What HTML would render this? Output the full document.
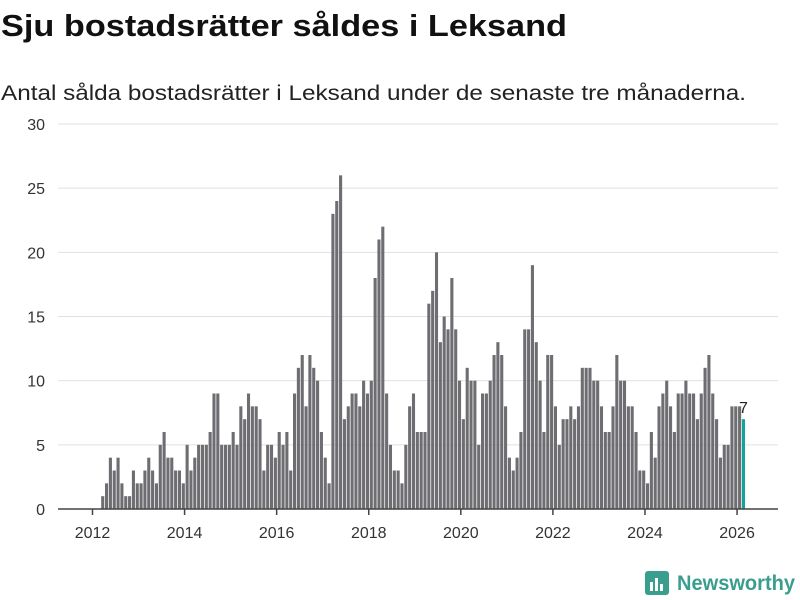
<!DOCTYPE html>
<html><head><meta charset="utf-8"><style>
body{margin:0;background:#fff;width:800px;height:600px;overflow:hidden}
svg{display:block;font-family:"Liberation Sans",sans-serif}
</style></head><body>
<svg id="chart" width="800" height="600" viewBox="0 0 800 600">
<text x="1" y="36" font-size="31" font-weight="bold" fill="#111" textLength="566" lengthAdjust="spacingAndGlyphs">Sju bostadsrätter såldes i Leksand</text>
<text x="1" y="100" font-size="21" fill="#222" textLength="745" lengthAdjust="spacingAndGlyphs">Antal sålda bostadsrätter i Leksand under de senaste tre månaderna.</text>
<g id="grid"></g>
<g id="bars"></g>
<g id="axis"></g>
<g>
<rect x="645" y="571" width="24" height="24" rx="3" fill="#3a9e8f"/>
<rect x="650" y="582" width="3" height="9" fill="#fff"/><rect x="655" y="578" width="3" height="13" fill="#fff"/><rect x="660" y="584" width="3" height="7" fill="#fff"/>
<text x="677" y="590" font-size="21" font-weight="bold" fill="#3a9e8f" textLength="118" lengthAdjust="spacingAndGlyphs">Newsworthy</text>
</g>
</svg>
<script>
const startYear = 2012, startMonth = 2;
const values = [1,2,4,3,4,2,1,1,3,2,2,3,4,3,2,5,6,4,4,3,3,2,5,3,4,5,5,5,6,9,9,5,5,5,6,5,8,7,9,8,8,7,3,5,
5,4,6,5,6,3,9,11,12,8,12,11,10,6,4,2,23,24,26,7,8,9,9,8,10,9,10,18,21,22,9,5,3,3,2,5,8,9,6,6,6,
16,17,20,13,15,14,18,14,10,7,11,10,10,5,9,9,10,12,13,12,8,4,3,4,6,14,14,19,13,10,6,12,12,8,5,7,7,8,7,8,
11,11,11,10,10,8,6,6,8,12,10,10,8,8,6,3,3,2,6,4,8,9,10,8,6,9,9,10,9,9,7,9,11,12,9,7,4,5,5,8,8,8,7];
const yTicks = [0,5,10,15,20,25,30];
const xTicks = [2012,2014,2016,2018,2020,2022,2024,2026];
const NS = "http://www.w3.org/2000/svg";
const y = v => 509 - v * (385/30);
const x = yr => 92.5 + (yr - 2012) * 46.04;
function mk(tag, attrs, parent){const e=document.createElementNS(NS,tag);for(const k in attrs)e.setAttribute(k,attrs[k]);parent.appendChild(e);return e;}
const grid=document.getElementById('grid'), bars=document.getElementById('bars'), axis=document.getElementById('axis');
yTicks.forEach(t=>{
  if(t>0){const l=mk('line',{x1:58,x2:778,y1:y(t),y2:y(t),stroke:'#e0e0e0','stroke-width':1},grid);
  
  }
  const tx=mk('text',{x:45,y:y(t)+6,'font-size':16,fill:'#333','text-anchor':'end'},grid);
  tx.textContent=t;
  
  
});
values.forEach((v,i)=>{
  const m=startMonth+i;
  const x0=x(startYear+m/12)+1;
  const last=i===values.length-1;
  const r=mk('rect',{x:x0,y:y(v),width:3.1,height:509-y(v),fill:last?'#12a39a':'#6e6d72'},bars);
  
  
  if(last){const t=mk('text',{x:x0+1.5,y:y(v)-6,'font-size':16,fill:'#222','text-anchor':'middle'},bars);t.textContent=v;
  
  }
});
const base=mk('line',{x1:58,x2:778,y1:509,y2:509,stroke:'#444','stroke-width':1.5},axis);


xTicks.forEach(t=>{
  const l=mk('line',{x1:x(t),x2:x(t),y1:509,y2:515,stroke:'#444','stroke-width':1.5},axis);
  
  
  const tx=mk('text',{x:x(t),y:538,'font-size':16,fill:'#333','text-anchor':'middle'},axis);
  tx.textContent=t;
  
  
});
</script>
</body></html>
